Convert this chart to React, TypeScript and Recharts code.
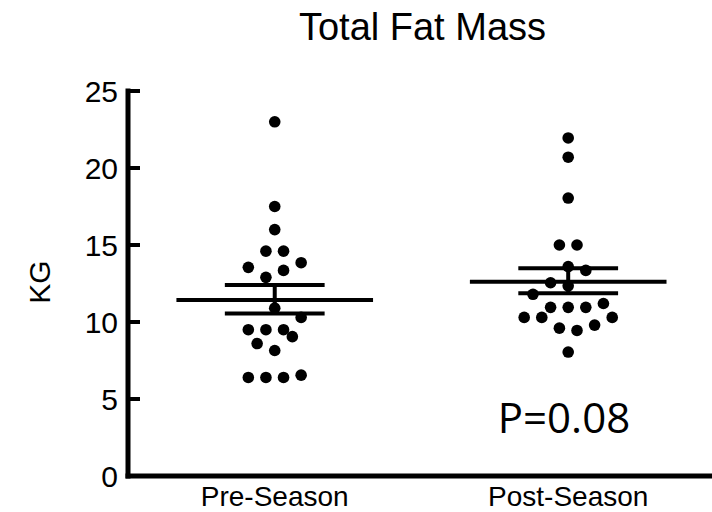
import { ScatterChart, Scatter, XAxis, YAxis, ReferenceLine } from 'recharts'

const categories = ['Pre-Season', 'Post-Season']
const yTicks = [0, 5, 10, 15, 20, 25]

// dot values (kg) and their horizontal jitter in category units
const preSeason = [23.0, 17.5, 16.0, 14.6, 14.6, 13.55, 13.85, 13.35, 12.9, 10.9, 10.3, 9.5, 9.5, 9.5, 9.05, 8.6, 8.15, 6.4, 6.4, 6.4, 6.55]
const preSpread = [0, 0, 0, -0.03, 0.03, -0.09, 0.09, 0.03, -0.03, 0, 0.09, -0.09, -0.03, 0.03, 0.06, -0.06, 0, -0.09, -0.03, 0.03, 0.09]
const postSeason = [21.95, 20.7, 18.05, 15.0, 15.0, 13.6, 13.35, 12.55, 12.35, 11.8, 10.95, 10.95, 10.95, 11.2, 10.3, 10.3, 10.3, 9.6, 9.45, 9.8, 8.05]
const postSpread = [0, 0, 0, -0.03, 0.03, 0, 0.06, -0.06, 0, -0.12, -0.06, 0, 0.06, 0.12, -0.15, -0.09, 0.15, -0.03, 0.03, 0.09, 0]

const means = [11.43, 12.62]
const semUpper = [12.4, 13.49]
const semLower = [10.55, 11.86]
const pText = 'P=0.08'

const FONT = '"Liberation Sans", Arial, sans-serif'

const preData = preSeason.map((v, i) => ({ x: 1 + preSpread[i], y: v }))
const postData = postSeason.map((v, i) => ({ x: 2 + postSpread[i], y: v }))

const Dot = (p: any) => <circle cx={p.cx} cy={p.cy} r={5.8} fill="#000" />

function YTick(props: any) {
  const { x, y, payload } = props
  return (
    <g>
      <line x1={x} x2={x + 12} y1={y} y2={y} stroke="#000" strokeWidth={4} />
      <text x={x - 10} y={y} dy="0.355em" textAnchor="end" fontSize={30} fontFamily={FONT} fill="#000">
        {payload.value}
      </text>
    </g>
  )
}

export default function App() {
  const line = { stroke: '#000', strokeWidth: 4 }
  return (
    <div style={{ position: 'relative', width: 712, height: 512, background: '#fff' }}>
      <style>{'body{margin:0}'}</style>
      <ScatterChart width={712} height={512} margin={{ top: 91, right: 0, bottom: 0, left: 0 }}>
        <XAxis
          type="number"
          dataKey="x"
          domain={[0.5, 2.49]}
          ticks={[1, 2]}
          tickFormatter={(v) => categories[Math.round(Number(v)) - 1]}
          height={36}
          tickLine={false}
          tickSize={0}
          tickMargin={10}
          tick={{ fontSize: 28, fill: '#000', fontFamily: FONT }}
          axisLine={{ stroke: '#000', strokeWidth: 5, strokeLinecap: 'square' }}
        />
        <YAxis
          type="number"
          dataKey="y"
          domain={[0, 25]}
          ticks={yTicks}
          interval={0}
          width={128}
          tickLine={false}
          tickSize={0}
          tickMargin={0}
          tick={<YTick />}
          axisLine={{ stroke: '#000', strokeWidth: 5, strokeLinecap: 'square' }}
        />
        {means.map((m, i) => (
          <ReferenceLine key={'m' + i} segment={[{ x: i + 1 - 0.335, y: m }, { x: i + 1 + 0.335, y: m }]} {...line} />
        ))}
        {semUpper.map((u, i) => (
          <ReferenceLine key={'u' + i} segment={[{ x: i + 1 - 0.17, y: u }, { x: i + 1 + 0.17, y: u }]} {...line} />
        ))}
        {semLower.map((l, i) => (
          <ReferenceLine key={'l' + i} segment={[{ x: i + 1 - 0.17, y: l }, { x: i + 1 + 0.17, y: l }]} {...line} />
        ))}
        {means.map((_, i) => (
          <ReferenceLine key={'v' + i} segment={[{ x: i + 1, y: semLower[i] }, { x: i + 1, y: semUpper[i] }]} {...line} />
        ))}
        <Scatter data={preData} shape={Dot} isAnimationActive={false} />
        <Scatter data={postData} shape={Dot} isAnimationActive={false} />
      </ScatterChart>
      <svg width={712} height={512} style={{ position: 'absolute', left: 0, top: 0, pointerEvents: 'none' }}>
        <text x={422.5} y={40} textAnchor="middle" fontSize={38} fontFamily={FONT} fill="#000">Total Fat Mass</text>
        <text x={50} y={282} textAnchor="middle" fontSize={30} fontFamily={FONT} fill="#000" transform="rotate(-90 50 282)">KG</text>
        <text x={564} y={433} textAnchor="middle" fontSize={42} fontFamily='"Open Sans", sans-serif' fill="#000">{pText}</text>
      </svg>
    </div>
  )
}
